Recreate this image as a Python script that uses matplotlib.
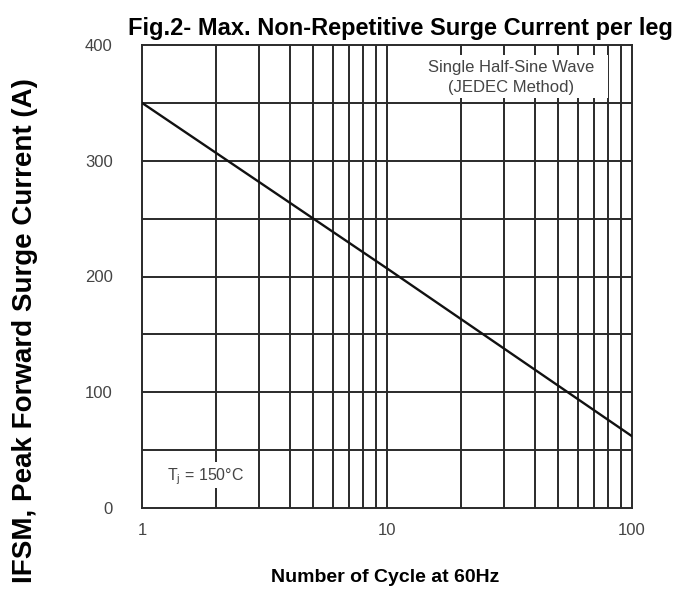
import matplotlib
matplotlib.use("Agg")
import matplotlib.pyplot as plt
from matplotlib.patches import Rectangle
import numpy as np

cycles = [1, 10, 100]
current = [350, 207, 62]
x_ticks = [1, 10, 100]
x_tick_labels = ["1", "10", "100"]
y_ticks = [0, 100, 200, 300, 400]

plt.rcParams['font.family'] = ['Liberation Sans', 'DejaVu Sans']

fig = plt.figure(figsize=(6.85, 5.98), dpi=100)
ax = fig.add_axes([142/685, 1-508/598, (632-142)/685, (508-45)/598])

ax.set_xscale('log')
ax.set_xlim(1, 100)
ax.set_ylim(0, 400)

grid_c = '#2a2a2a'
minor = [m * d for d in (1, 10) for m in range(2, 10)]
for xv in minor + [10]:
    ax.axvline(xv, color=grid_c, lw=1.4, zorder=1)
for yv in np.arange(50, 400, 50):
    ax.axhline(yv, color=grid_c, lw=1.4, zorder=1)

ax.plot(cycles, current, color='#111111', lw=1.7, zorder=5)

ax.set_xticks(x_ticks)
ax.set_xticklabels(x_tick_labels)
ax.set_xticks([], minor=True)
ax.set_yticks(y_ticks)
ax.tick_params(axis='both', length=0, labelsize=12, colors='#444444')
ax.tick_params(axis='y', pad=21)
ax.tick_params(axis='x', pad=11)
for s in ax.spines.values():
    s.set_color(grid_c)
    s.set_linewidth(1.4)

# annotation boxes
ax.add_patch(Rectangle((0.567, 0.885), 0.384, 0.093, transform=ax.transAxes,
                       fc='white', ec='none', zorder=3))
ax.text(0.753, 0.952, "Single Half-Sine Wave", transform=ax.transAxes,
        ha='center', va='center', fontsize=12, color='#444444', zorder=4)
ax.text(0.753, 0.909, "(JEDEC Method)", transform=ax.transAxes,
        ha='center', va='center', fontsize=12, color='#444444', zorder=4)

ax.add_patch(Rectangle((0.037, 0.043), 0.173, 0.056, transform=ax.transAxes,
                       fc='white', ec='none', zorder=3))
ax.text(0.129, 0.067, r"T$_\mathregular{j}$ = 150°C", transform=ax.transAxes,
        ha='center', va='center', fontsize=11.5, color='#444444', zorder=4)

fig.text(400/685, 1-28/598, "Fig.2- Max. Non-Repetitive Surge Current per leg",
         ha='center', va='center', fontsize=17, fontweight='bold')
fig.text(385/685, 1-578/598, "Number of Cycle at 60Hz",
         ha='center', va='center', fontsize=14, fontweight='bold')
fig.text(25/685, 1-331/598, "IFSM, Peak Forward Surge Current (A)",
         ha='center', va='center', fontsize=20, fontweight='bold', rotation=90)

fig.savefig("out.png", dpi=100)
